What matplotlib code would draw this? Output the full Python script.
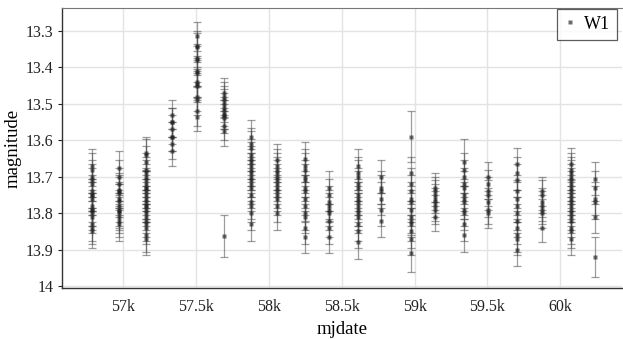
import matplotlib
matplotlib.use("Agg")
import matplotlib.pyplot as plt
from matplotlib.ticker import FuncFormatter, FixedLocator

plt.rcParams['font.family'] = ['Liberation Serif', 'DejaVu Serif']

# epoch centres (MJD)
epoch_mjd = [56787, 56970, 57157, 57335, 57510, 57690, 57880, 58055, 58250, 58415,
             58610, 58770, 58975, 59140, 59340, 59505, 59705, 59875, 60075, 60240]

# W1 magnitudes per epoch
mag_1 = [13.67, 13.68, 13.70, 13.71, 13.72, 13.74, 13.75, 13.75, 13.76, 13.78, 13.79, 13.79, 13.80, 13.81, 13.83, 13.84, 13.85]
mag_2 = [13.675, 13.70, 13.72, 13.735, 13.74, 13.745, 13.76, 13.765, 13.78, 13.79, 13.795, 13.80, 13.81, 13.82, 13.83]
mag_3 = [13.635, 13.64, 13.66, 13.68, 13.69, 13.70, 13.71, 13.72, 13.73, 13.73, 13.74, 13.75, 13.76, 13.77, 13.78, 13.78, 13.79, 13.80, 13.81, 13.82, 13.83, 13.84, 13.86, 13.87]
mag_4 = [13.53, 13.55, 13.55, 13.57, 13.59, 13.59, 13.61, 13.63]
mag_5 = [13.315, 13.34, 13.345, 13.375, 13.38, 13.41, 13.415, 13.44, 13.445, 13.45, 13.48, 13.49, 13.52, 13.535]
mag_6 = [13.47, 13.48, 13.49, 13.50, 13.51, 13.52, 13.53, 13.53, 13.54, 13.56, 13.575, 13.862]
mag_7 = [13.59, 13.61, 13.62, 13.64, 13.65, 13.66, 13.67, 13.68, 13.69, 13.70, 13.71, 13.72, 13.73, 13.75, 13.77, 13.78, 13.80, 13.83]
mag_8 = [13.655, 13.67, 13.68, 13.69, 13.70, 13.71, 13.72, 13.73, 13.74, 13.75, 13.76, 13.78, 13.80]
mag_9 = [13.65, 13.67, 13.68, 13.70, 13.71, 13.73, 13.74, 13.76, 13.78, 13.80, 13.81, 13.84, 13.865]
mag_10 = [13.73, 13.75, 13.77, 13.78, 13.79, 13.80, 13.82, 13.84, 13.865]
mag_11 = [13.67, 13.69, 13.70, 13.72, 13.73, 13.75, 13.76, 13.77, 13.78, 13.79, 13.80, 13.81, 13.83, 13.85, 13.88]
mag_12 = [13.70, 13.73, 13.74, 13.76, 13.79, 13.82]
mag_13 = [13.59, 13.69, 13.72, 13.74, 13.76, 13.77, 13.79, 13.81, 13.82, 13.83, 13.85, 13.87, 13.91]
mag_14 = [13.73, 13.74, 13.75, 13.76, 13.77, 13.78, 13.79, 13.81]
mag_15 = [13.66, 13.68, 13.70, 13.72, 13.73, 13.75, 13.76, 13.77, 13.79, 13.80, 13.83, 13.86]
mag_16 = [13.70, 13.72, 13.74, 13.75, 13.77, 13.79, 13.80]
mag_17 = [13.665, 13.69, 13.71, 13.74, 13.76, 13.78, 13.80, 13.82, 13.84, 13.86, 13.87, 13.90]
mag_18 = [13.74, 13.75, 13.77, 13.78, 13.79, 13.80, 13.84]
mag_19 = [13.665, 13.68, 13.69, 13.70, 13.71, 13.72, 13.73, 13.74, 13.75, 13.76, 13.77, 13.78, 13.79, 13.80, 13.81, 13.82, 13.84, 13.85, 13.87]
mag_20 = [13.705, 13.73, 13.76, 13.77, 13.81, 13.92]

mags = [mag_1, mag_2, mag_3, mag_4, mag_5, mag_6, mag_7, mag_8, mag_9, mag_10,
        mag_11, mag_12, mag_13, mag_14, mag_15, mag_16, mag_17, mag_18, mag_19, mag_20]

# typical uncertainty per epoch, plus individual larger ones
epoch_err = [0.045, 0.045, 0.045, 0.04, 0.04, 0.04, 0.045, 0.045, 0.045, 0.045,
             0.045, 0.045, 0.045, 0.04, 0.045, 0.04, 0.045, 0.04, 0.045, 0.045]
special_err = {(5, 11): 0.058, (12, 0): 0.07, (12, 12): 0.05, (14, 0): 0.065, (19, 5): 0.055}

x_ticks = [57000, 57500, 58000, 58500, 59000, 59500, 60000]
y_ticks = [13.3, 13.4, 13.5, 13.6, 13.7, 13.8, 13.9, 14.0]

xs, ys, es = [], [], []
for i, (m0, ms) in enumerate(zip(epoch_mjd, mags)):
    for j, v in enumerate(ms):
        xs.append(m0)
        ys.append(v)
        es.append(special_err.get((i, j), epoch_err[i]))

fig = plt.figure(figsize=(6.23, 3.39), dpi=100)
ax = fig.add_axes([62/623, 1 - 288/339, 1 - 62/623 - 0.001, (288 - 8)/339])

ax.errorbar(xs, ys, yerr=es, fmt='none', ecolor=(0.3, 0.3, 0.3, 0.55),
            elinewidth=0.9, capsize=3, capthick=0.9, zorder=2)
ax.plot(xs, ys, 's', ms=3.2, color=(0.12, 0.12, 0.12, 0.65), mec='none',
        label='W1', zorder=3)

ax.set_xlim(56582, 60425)
ax.set_ylim(14.005, 13.237)

ax.xaxis.set_major_locator(FixedLocator(x_ticks))
ax.yaxis.set_major_locator(FixedLocator(y_ticks))
ax.xaxis.set_major_formatter(FuncFormatter(lambda v, p: f"{v/1000:g}k"))
ax.yaxis.set_major_formatter(FuncFormatter(lambda v, p: f"{v:g}"))

ax.grid(True, color='#e3e3e3', linewidth=1.0, zorder=0)
ax.set_axisbelow(True)
ax.tick_params(axis='x', length=0, labelsize=11.5, pad=8, colors='#222222')
ax.tick_params(axis='y', length=3, labelsize=11.5, pad=3, colors='#222222', width=0.8)

for s in ['left', 'bottom']:
    ax.spines[s].set_color('#333333')
    ax.spines[s].set_linewidth(1.0)
ax.spines['top'].set_color('#777777')
ax.spines['top'].set_linewidth(0.8)
ax.spines['right'].set_visible(False)

ax.set_xlabel('mjdate', fontsize=13.5, labelpad=4)
ax.set_ylabel('magnitude', fontsize=13.5, labelpad=3)

leg = ax.legend(loc='upper right', fontsize=13, frameon=True, fancybox=False,
                edgecolor='#333333', handlelength=0.6, handletextpad=0.5,
                borderpad=0.4, markerscale=0.7, borderaxespad=0.0,
                bbox_to_anchor=(0.991, 0.998))
leg.get_frame().set_linewidth(0.9)

fig.savefig('out.png', dpi=100)
